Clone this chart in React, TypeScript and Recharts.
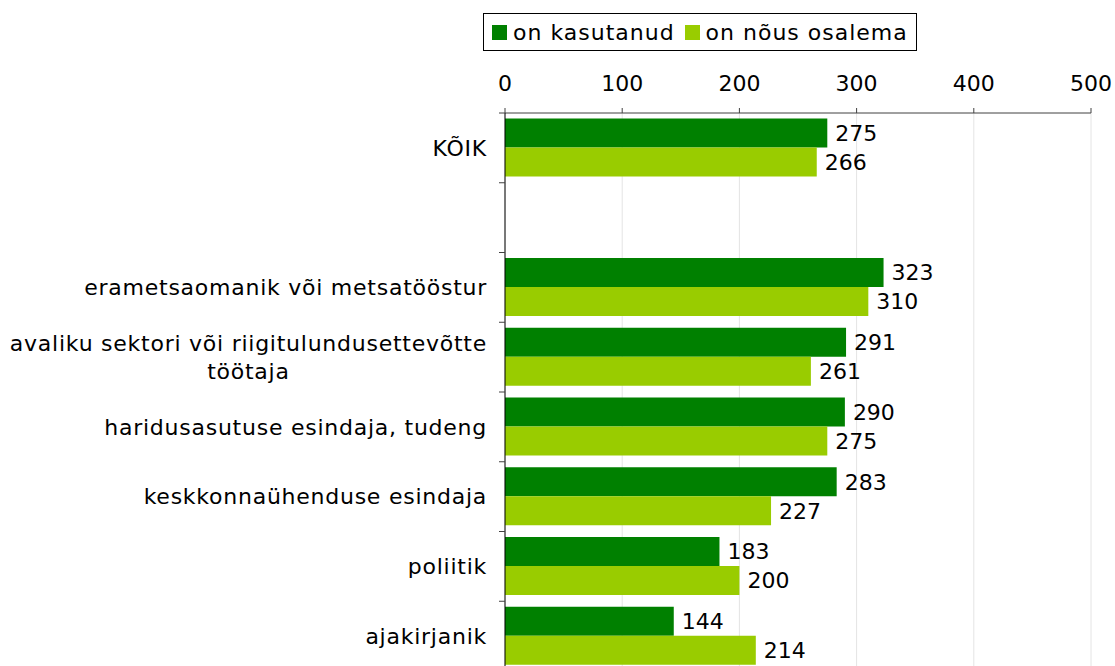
import React from 'react';
import { BarChart, Bar, XAxis, YAxis, CartesianGrid, Legend, LabelList } from 'recharts';

const categories = [
  'KÕIK',
  ' ',
  'erametsaomanik või metsatööstur',
  'avaliku sektori või riigitulundusettevõtte\ntöötaja',
  'haridusasutuse esindaja, tudeng',
  'keskkonnaühenduse esindaja',
  'poliitik',
  'ajakirjanik',
];
const usedValues = [275, null, 323, 291, 290, 283, 183, 144];
const willingValues = [266, null, 310, 261, 275, 227, 200, 214];
const xTicks = [0, 100, 200, 300, 400, 500];
const seriesNames = ['on kasutanud', 'on nõus osalema'];
const seriesColors = ['#008000', '#99CC00'];

const data = categories.map((c, i) => ({
  category: c,
  used: usedValues[i],
  willing: willingValues[i],
}));

const FONT = '"DejaVu Sans", Verdana, sans-serif';
const LABEL_SIZE = 22;
const LABEL_LS = 0.75;
const NUM_SIZE = 22;

let canvasCtx: CanvasRenderingContext2D | null = null;
function measure(text: string): number {
  if (!canvasCtx) {
    const c = document.createElement('canvas');
    canvasCtx = c.getContext('2d');
  }
  if (!canvasCtx) return text.length * 12;
  canvasCtx.font = `${LABEL_SIZE}px ${FONT}`;
  (canvasCtx as any).letterSpacing = `${LABEL_LS}px`;
  return canvasCtx.measureText(text).width;
}

const CategoryTick = (props: any) => {
  const { x, y, payload } = props;
  const lines = String(payload.value).split('\n');
  const boundary = payload.offset != null ? y - payload.offset : null;
  const w0 = measure(lines[0]);
  const lh = 28;
  return (
    <g>
      {boundary != null && (
        <line x1={x + 12} x2={x + 18} y1={boundary} y2={boundary} stroke="#404040" strokeWidth={1} />
      )}
      {lines.map((ln, i) => (
        <text
          key={i}
          x={i === 0 ? x : x - w0 / 2}
          y={y + (i - (lines.length - 1) / 2) * lh}
          dy="0.355em"
          textAnchor={i === 0 ? 'end' : 'middle'}
          fontFamily={FONT}
          fontSize={LABEL_SIZE}
          letterSpacing={LABEL_LS}
          fill="#000"
        >
          {ln}
        </text>
      ))}
    </g>
  );
};

const renderLegend = (props: any) => {
  const payload = props.payload || [];
  return (
    <div
      style={{
        display: 'inline-flex',
        alignItems: 'center',
        border: '1px solid #000',
        height: 36,
        padding: '0 8px',
        background: '#fff',
        fontFamily: FONT,
        fontSize: LABEL_SIZE,
        letterSpacing: 1,
        color: '#000',
        whiteSpace: 'nowrap',
      }}
    >
      {payload.map((p: any, i: number) => (
        <span
          key={i}
          style={{ display: 'inline-flex', alignItems: 'center', marginRight: i < payload.length - 1 ? 10 : 0 }}
        >
          <span style={{ display: 'inline-block', width: 15, height: 15, background: p.color, marginRight: 6 }} />
          {p.value}
        </span>
      ))}
    </div>
  );
};

export default function App() {
  return (
    <div
      style={{ position: 'fixed', left: 0, top: 0, width: 1115, height: 666, overflow: 'hidden', background: '#fff' }}
    >
      <BarChart
        width={1115}
        height={700}
        data={data}
        layout="vertical"
        margin={{ top: 13, right: 24, left: 0, bottom: 29 }}
        barCategoryGap="8%"
        barGap={0}
      >
        <Legend
          verticalAlign="top"
          align="left"
          content={renderLegend}
          wrapperStyle={{ top: 13, left: 483, width: 'auto' }}
        />
        <CartesianGrid horizontal={false} vertical stroke="#e4e4e4" />
        <XAxis
          type="number"
          orientation="top"
          domain={[0, 500]}
          ticks={xTicks}
          height={62}
          tickSize={5}
          tickMargin={17}
          stroke="#404040"
          tick={{ fill: '#000', fontSize: NUM_SIZE, fontFamily: FONT }}
          interval={0}
        />
        <YAxis
          type="category"
          dataKey="category"
          width={505}
          tickLine={false}
          tickSize={0}
          tickMargin={18}
          stroke="#000"
          interval={0}
          tick={<CategoryTick />}
        />
        <Bar dataKey="used" name={seriesNames[0]} fill={seriesColors[0]} isAnimationActive={false}>
          <LabelList dataKey="used" position="right" offset={8} fill="#000" fontSize={NUM_SIZE} fontFamily={FONT} />
        </Bar>
        <Bar dataKey="willing" name={seriesNames[1]} fill={seriesColors[1]} isAnimationActive={false}>
          <LabelList dataKey="willing" position="right" offset={8} fill="#000" fontSize={NUM_SIZE} fontFamily={FONT} />
        </Bar>
      </BarChart>
    </div>
  );
}
